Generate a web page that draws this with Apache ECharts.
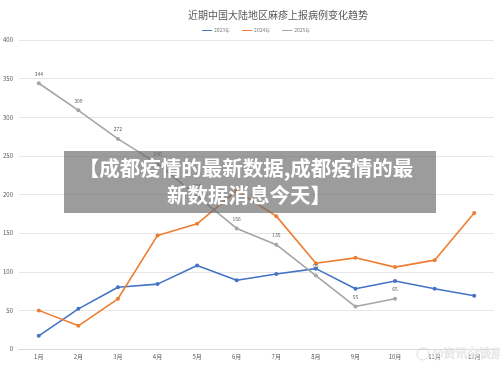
<!DOCTYPE html>
<html>
<head>
<meta charset="utf-8">
<script src="https://cdn.jsdelivr.net/npm/echarts@6/dist/echarts.min.js"></script>
<style>
html,body{margin:0;padding:0;background:#fff;}
#c{width:500px;height:366px;}
</style>
</head>
<body>
<div id="c"></div>
<script>
var titleText = '近期中国大陆地区麻疹上报病例变化趋势';
var categories = ['1月','2月','3月','4月','5月','6月','7月','8月','9月','10月','11月','12月'];
var seriesNames = ['2023年','2024年','2025年'];
var values2023 = [17, 52, 80, 84, 108, 89, 97, 104, 78, 88, 78, 69];
var values2024 = [50, 30, 65, 147, 162, 205, 172, 111, 118, 106, 115, 176];
var values2025 = [344, 309, 272, 240, 198, 156, 135, 95, 55, 65, null, null];
var yTicks = {min: 0, max: 400, interval: 50};
var bannerLine1 = '【成都疫情的最新数据,成都疫情的最';
var bannerLine2 = '新数据消息今天】';
var watermark = '@资讯杂谈原';

var FONT = '"Noto Sans CJK SC", "Noto Sans", sans-serif';
var chart = echarts.init(document.getElementById('c'), null, {renderer: 'canvas'});

function lineSeries(name, data, color, withLabel) {
  return {
    name: name,
    type: 'line',
    data: data,
    symbol: 'circle',
    symbolSize: 4,
    showSymbol: true,
    connectNulls: false,
    lineStyle: {color: color, width: 1.6},
    itemStyle: {color: color},
    label: {
      show: withLabel,
      position: 'top',
      distance: 5,
      fontSize: 5,
      color: '#595959',
      fontFamily: FONT
    },
    z: 2
  };
}

chart.setOption({
  animation: false,
  backgroundColor: '#fff',
  textStyle: {fontFamily: FONT},
  title: {
    text: titleText,
    left: 273,
    top: 5,
    textAlign: 'center',
    textStyle: {fontSize: 10, fontWeight: 'normal', color: '#595959', fontFamily: FONT}
  },
  legend: {
    data: seriesNames,
    left: 197,
    top: 23,
    itemWidth: 10,
    itemHeight: 5,
    itemGap: 12,
    icon: 'path://M0,2 L10,2 L10,3 L0,3 Z',
    textStyle: {fontSize: 5, color: '#7f7f7f', padding: [0, 0, 0, -3]}
  },
  grid: {left: 18, right: 6, top: 40, bottom: 17, containLabel: false},
  xAxis: {
    type: 'category',
    data: categories,
    boundaryGap: true,
    axisLine: {lineStyle: {color: '#d9d9d9'}},
    axisTick: {show: false},
    axisLabel: {fontSize: 6, color: '#595959', margin: 5}
  },
  yAxis: {
    type: 'value',
    min: yTicks.min,
    max: yTicks.max,
    interval: yTicks.interval,
    axisLine: {show: false},
    axisTick: {show: false},
    splitLine: {lineStyle: {color: '#e6e6e6', width: 1}},
    axisLabel: {fontSize: 6, color: '#595959', margin: 6}
  },
  series: [
    lineSeries(seriesNames[0], values2023, '#4472C4', false),
    lineSeries(seriesNames[1], values2024, '#ED7D31', false),
    lineSeries(seriesNames[2], values2025, '#A5A5A5', true)
  ],
  graphic: [
    {
      type: 'rect',
      shape: {x: 64, y: 151, width: 372, height: 62},
      style: {fill: 'rgba(105,105,105,0.66)'},
      z: 100
    },
    {
      type: 'text',
      x: 246, y: 168,
      style: {
        text: bannerLine1,
        fill: '#fff',
        font: 'bold 20.5px ' + FONT,
        textAlign: 'center',
        textVerticalAlign: 'middle'
      },
      z: 101
    },
    {
      type: 'text',
      x: 249, y: 195,
      style: {
        text: bannerLine2,
        fill: '#fff',
        font: 'bold 20.5px ' + FONT,
        textAlign: 'center',
        textVerticalAlign: 'middle'
      },
      z: 101
    },
    {
      type: 'text',
      x: 432, y: 353,
      style: {
        text: watermark,
        fill: 'rgba(240,240,240,0.85)',
        stroke: 'rgba(185,185,185,0.5)',
        lineWidth: 0.6,
        font: '12px ' + FONT,
        textAlign: 'left',
        textVerticalAlign: 'middle'
      },
      z: 102
    },
    {
      type: 'circle',
      shape: {cx: 423, cy: 354, r: 6},
      style: {fill: 'none', stroke: 'rgba(200,200,200,0.6)', lineWidth: 1},
      z: 102
    }
  ]
});
</script>
</body>
</html>
